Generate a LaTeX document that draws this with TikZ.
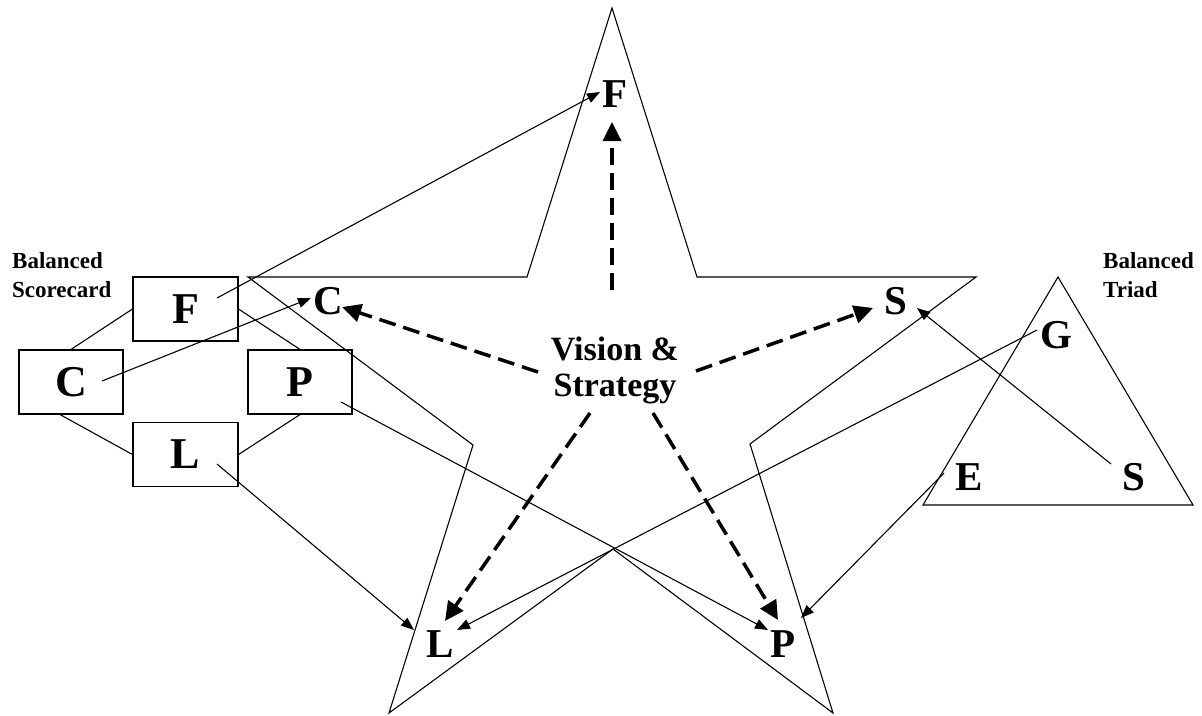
\documentclass[tikz,border=0pt]{standalone}
\usepackage{fontspec}
\setmainfont{Liberation Serif}
\usetikzlibrary{arrows.meta}
\tikzset{
  thinline/.style={line width=1.1pt, line join=miter},
  boxnode/.style={draw, line width=1.1pt, inner sep=0pt, minimum width=105pt, minimum height=64pt,
    font=\fontsize{44}{44}\selectfont\bfseries},
  letter/.style={inner sep=0pt, font=\fontsize{41}{41}\selectfont\bfseries},
  caption/.style={inner sep=0pt, align=left, anchor=north west, font=\fontsize{23}{29}\selectfont\bfseries},
  link/.style={line width=1.1pt, -{Triangle[length=13pt,width=10pt]}},
  vsarrow/.style={line width=3.5pt, dash pattern=on 17pt off 8pt, -{Triangle[length=19pt,width=18pt]}}
}
\begin{document}
\begin{tikzpicture}[x=1pt,y=-1pt]
\useasboundingbox (0,0) rectangle (1202,715);

% star outline
\draw[thinline] (612,8) -- (697,277) -- (976,277) -- (750,444) -- (833,713) -- (613,549)
  -- (389,713) -- (473,445) -- (248,277) -- (527,277) -- cycle;
% triad triangle
\draw[thinline] (1058,277) -- (1193,505) -- (923,505) -- cycle;

% captions
\node[caption] (capBS) at (12,252) {Balanced\\Scorecard};
\node[caption] (capBT) at (1103,252) {Balanced\\Triad};

% scorecard boxes
\node[boxnode] (bF) at (185.5,309) {F};
\node[boxnode, minimum width=104pt] (bC) at (71,382) {C};
\node[boxnode, minimum width=104pt] (bP) at (300,382) {P};
\node[boxnode] (bL) at (185.5,454.5) {L};
\draw[thinline] (bC.north) -- (bF.west);
\draw[thinline] (bF.east) -- (bP.north);
\draw[thinline] ([xshift=-11pt]bC.south) -- (bL.west);
\draw[thinline] (bL.east) -- (bP.south);

% star letters
\node[letter] (sF) at (615,94) {F};
\node[letter] (sC) at (328,301) {C};
\node[letter] (sS) at (896,301) {S};
\node[letter] (sL) at (440,644) {L};
\node[letter] (sP) at (783,644) {P};
% triad letters
\node[letter] (tG) at (1056,335) {G};
\node[letter] (tE) at (969,477) {E};
\node[letter] (tS) at (1134,477) {S};

% centre
\node[inner sep=0pt, align=center, font=\fontsize{34}{36}\selectfont\bfseries] (vs) at (615,370) {Vision \&\\Strategy};

% link end points
\coordinate (aF0) at (217,298);  \coordinate (aF1) at (600,92);
\coordinate (aC0) at (102,381);  \coordinate (aC1) at (311,298);
\coordinate (aP0) at (341,402);  \coordinate (aP1) at (768,630);
\coordinate (aL0) at (217,464);  \coordinate (aL1) at (414,630);
\coordinate (aG0) at (1037,330); \coordinate (aG1) at (457,630);
\coordinate (aS0) at (1111,464); \coordinate (aS1) at (917,308);
\coordinate (aE0) at (944,473);  \coordinate (aE1) at (801,618);

\draw[link] (aF0) -- (aF1);
\draw[link] (aC0) -- (aC1);
\draw[link] (aP0) -- (aP1);
\draw[link] (aL0) -- (aL1);
\draw[link] (aG0) -- (aG1);
\draw[link] (aS0) -- (aS1);
\draw[link] (aE0) -- (aE1);

% dashed arrows from vision & strategy
\coordinate (dF0) at (612,290); \coordinate (dF1) at (612,122);
\coordinate (dC0) at (538,372); \coordinate (dC1) at (342,307);
\coordinate (dS0) at (696,371); \coordinate (dS1) at (873,308);
\coordinate (dL0) at (590,413); \coordinate (dL1) at (445,621);
\coordinate (dP0) at (653,413); \coordinate (dP1) at (778,620);
\draw[vsarrow] (dF0) -- (dF1);
\draw[vsarrow] (dC0) -- (dC1);
\draw[vsarrow] (dS0) -- (dS1);
\draw[vsarrow] (dL0) -- (dL1);
\draw[vsarrow] (dP0) -- (dP1);
\end{tikzpicture}
\end{document}
